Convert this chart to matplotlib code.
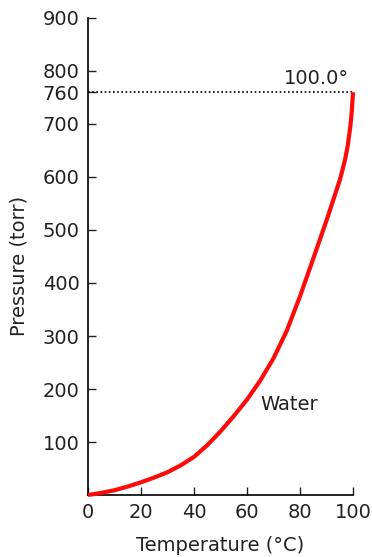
import matplotlib
matplotlib.use('Agg')
import matplotlib.pyplot as plt

temp = [0, 5, 10, 15, 20, 25, 30, 35, 40, 45, 50, 55, 60, 65, 70, 75, 80, 85,
        90, 95, 96, 97, 98, 99, 99.5, 100]
pres = [0, 4, 9, 16, 24, 33, 43, 56, 72, 94, 120, 149, 180, 216, 258, 310, 375, 446,
        518, 594, 613, 633, 659, 696, 722, 760]

xticks = [0, 20, 40, 60, 80, 100]
yticks = [100, 200, 300, 400, 500, 600, 700, 760, 800, 900]

plt.rcParams['font.family'] = ['DejaVu Sans']
FS = 14

fig = plt.figure(figsize=(3.72, 5.57), dpi=100)
ax = fig.add_axes([0.2366, 0.1113, 0.949 - 0.2366, 0.9677 - 0.1113])

ax.plot(temp, pres, color='#ff0a0a', linewidth=3, solid_capstyle='butt',
        solid_joinstyle='round', clip_on=False, zorder=3)
ax.plot([0, 100], [760, 760], color='k', linestyle=(0, (1, 1.5)), linewidth=1.2, clip_on=False)

ax.text(98.5, 768, '100.0°', ha='right', va='bottom', fontsize=FS, color='#222222')
ax.text(65, 170, 'Water', ha='left', va='center', fontsize=FS, color='#222222')

ax.set_xlim(0, 100)
ax.set_ylim(0, 900)
ax.set_xticks(xticks)
ax.set_yticks(yticks)
ax.tick_params(direction='in', length=6, width=1, labelsize=FS, colors='#222222', pad=6)
for s in ['top', 'right']:
    ax.spines[s].set_visible(False)
for s in ['left', 'bottom']:
    ax.spines[s].set_linewidth(1.2)

ax.set_xlabel('Temperature (°C)', fontsize=FS, color='#222222', labelpad=10)
ax.set_ylabel('Pressure (torr)', fontsize=FS, color='#222222')
ax.yaxis.set_label_coords(-0.225, 0.48)

fig.savefig('out.png', dpi=100)
